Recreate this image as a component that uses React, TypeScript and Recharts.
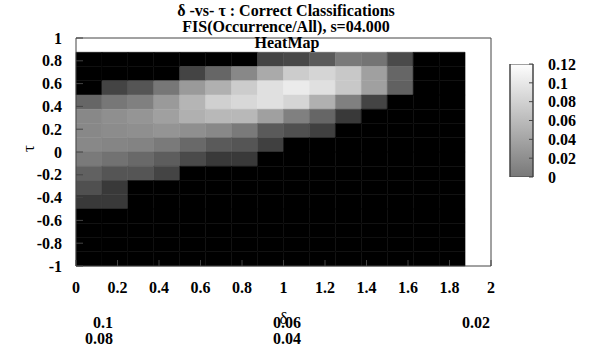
import { ComposedChart, BarChart, Bar, XAxis, YAxis, ReferenceArea, Label } from "recharts";

// axis ticks
const deltaTicks = [0, 0.2, 0.4, 0.6, 0.8, 1, 1.2, 1.4, 1.6, 1.8, 2];
const deltaInnerTicks = [0.2, 0.4, 0.6, 0.8, 1, 1.2, 1.4, 1.6, 1.8];
const tauTicks = [-1, -0.8, -0.6, -0.4, -0.2, 0, 0.2, 0.4, 0.6, 0.8, 1];
const tauInnerTicks = [-0.8, -0.6, -0.4, -0.2, 0, 0.2, 0.4, 0.6, 0.8];
const cbTicks = [0, 0.02, 0.04, 0.06, 0.08, 0.1, 0.12];
const cbRange = [{ name: "cb", top: 0.12 }];

// heatmap cells (0.125 wide), left edges in delta, lower edges in tau (top row first)
const CELL = 0.125;
const deltaStarts = [0, 0.125, 0.25, 0.375, 0.5, 0.625, 0.75, 0.875, 1, 1.125, 1.25, 1.375, 1.5, 1.625, 1.75];
const tauStarts = [0.75, 0.625, 0.5, 0.375, 0.25, 0.125, 0, -0.125, -0.25, -0.375, -0.5, -0.625, -0.75, -0.875, -1];

const n = null;
const values: (number | null)[][] = [
  [n, n, n, n, n, n, n, -0.047, -0.043, -0.027, 0.002, -0.004, -0.041, n, n],
  [n, n, n, n, -0.047, -0.016, 0.014, 0.045, 0.075, 0.083, 0.072, 0.036, -0.016, n, n],
  [n, -0.047, -0.031, -0.001, 0.03, 0.05, 0.075, 0.093, 0.103, 0.093, 0.072, 0.036, -0.021, n, n],
  [-0.016, -0.001, 0.007, 0.03, 0.055, 0.079, 0.086, 0.093, 0.083, 0.05, 0.007, -0.047, n, n, n],
  [0.014, 0.021, 0.026, 0.036, 0.05, 0.057, 0.057, 0.036, 0.007, -0.016, -0.056, n, n, n, n],
  [0.014, 0.018, 0.021, 0.025, 0.021, 0.014, 0.002, -0.027, -0.036, -0.05, n, n, n, n, n],
  [0.014, 0.012, 0.01, 0.002, -0.013, -0.027, -0.031, -0.05, n, n, n, n, n, n, n],
  [0.002, -0.005, -0.013, -0.024, -0.041, -0.056, -0.056, n, n, n, n, n, n, n, n],
  [-0.021, -0.031, -0.031, -0.047, n, n, n, n, n, n, n, n, n, n, n],
  [-0.036, -0.056, n, n, n, n, n, n, n, n, n, n, n, n, n],
  [-0.056, -0.056, n, n, n, n, n, n, n, n, n, n, n, n, n],
  [n, n, n, n, n, n, n, n, n, n, n, n, n, n, n],
  [n, n, n, n, n, n, n, n, n, n, n, n, n, n, n],
  [n, n, n, n, n, n, n, n, n, n, n, n, n, n, n],
  [n, n, n, n, n, n, n, n, n, n, n, n, n, n, n],
];

const FONT = "'Liberation Serif', 'DejaVu Serif', serif";
const FS = 16;
const tickStyle = { fontFamily: FONT, fontWeight: 700, fontSize: FS, fill: "#000" };

function shade(v: number | null) {
  if (v === null) return "#000000";
  const g = Math.max(0, Math.min(255, Math.round(120 + v * 1117)));
  const h = g.toString(16).padStart(2, "0");
  return `#${h}${h}${h}`;
}

const txt = (s: string, left: number, top: number, anchor: "left" | "center" | "right") => (
  <div
    key={s + left + top}
    style={{
      position: "absolute",
      left,
      top,
      transform: anchor === "center" ? "translateX(-50%)" : anchor === "right" ? "translateX(-100%)" : undefined,
      fontFamily: FONT,
      fontWeight: 700,
      fontSize: FS,
      lineHeight: "16px",
      whiteSpace: "nowrap",
      color: "#000",
    }}
  >
    {s}
  </div>
);

export default function App() {
  return (
    <div style={{ position: "absolute", left: 0, top: 0, width: 592, height: 354, background: "#fff" }}>
      <div style={{ position: "absolute", left: 0, top: 0 }}>
        <ComposedChart width={592} height={354} margin={{ top: 37, right: 100, bottom: 58, left: 0 }}>
          {values.map((row, r) =>
            row.map((v, c) => (
              <ReferenceArea
                key={`${r}-${c}`}
                x1={deltaStarts[c]}
                x2={deltaStarts[c] + CELL}
                y1={tauStarts[r]}
                y2={tauStarts[r] + CELL}
                fill={shade(v)}
                fillOpacity={1}
                stroke={shade(v)}
                strokeWidth={0.5}
                isAnimationActive={false}
              />
            ))
          )}
          <XAxis
            type="number"
            dataKey="x"
            domain={[0, 2]}
            ticks={deltaTicks}
            allowDataOverflow
            height={30}
            tickSize={-6}
            tickMargin={22}
            tick={tickStyle}
            stroke="#444"
            interval={0}
          >
            <Label value="δ" position="bottom" offset={16} style={{ fontFamily: FONT, fontSize: 17, fill: "#000" }} />
          </XAxis>
          <XAxis
            xAxisId="top"
            orientation="top"
            type="number"
            domain={[0, 2]}
            ticks={deltaInnerTicks}
            allowDataOverflow
            height={1}
            tickSize={-6}
            tick={false}
            stroke="#444"
            interval={0}
          />
          <YAxis
            type="number"
            domain={[-1, 1]}
            ticks={tauTicks}
            allowDataOverflow
            width={76}
            tickSize={-7}
            tickMargin={21}
            tick={tickStyle}
            stroke="#444"
            interval={0}
          >
            <Label value="τ" position="insideLeft" offset={28} angle={-90} style={{ fontFamily: FONT, fontSize: 17, fill: "#000" }} />
          </YAxis>
          <YAxis
            yAxisId="right"
            orientation="right"
            type="number"
            domain={[-1, 1]}
            ticks={tauInnerTicks}
            allowDataOverflow
            width={1}
            tickSize={-7}
            tick={false}
            stroke="#444"
            interval={0}
          />
        </ComposedChart>
      </div>

      {/* colour box */}
      <div style={{ position: "absolute", left: 0, top: 0 }}>
        <BarChart
          width={592}
          height={354}
          data={cbRange}
          barCategoryGap={0}
          margin={{ top: 64, right: 1, bottom: 177, left: 509 }}
        >
          <defs>
            <linearGradient id="cbGrad" x1="0" y1="1" x2="0" y2="0">
              <stop offset="0%" stopColor={shade(0)} />
              <stop offset="100%" stopColor={shade(0.12)} />
            </linearGradient>
          </defs>
          <XAxis dataKey="name" hide />
          <Bar dataKey="top" fill="url(#cbGrad)" stroke="#444" strokeWidth={1} isAnimationActive={false} />
          <YAxis
            orientation="left"
            type="number"
            domain={[0, 0.12]}
            ticks={cbTicks}
            allowDataOverflow
            width={1}
            tickSize={-4}
            tick={false}
            stroke="#444"
            interval={0}
          />
          <YAxis
            yAxisId="cbr"
            orientation="right"
            type="number"
            domain={[0, 0.12]}
            ticks={cbTicks}
            allowDataOverflow
            width={58}
            tickSize={-4}
            tickMargin={19}
            tick={tickStyle}
            stroke="#444"
            interval={0}
          />
        </BarChart>
      </div>

      {txt("δ -vs- τ : Correct Classifications", 286, 3, "center")}
      {txt("FIS(Occurrence/All), s=04.000", 286, 19, "center")}
      {txt("HeatMap", 287, 35, "center")}
      {txt("0.1", 113, 315, "right")}
      {txt("0.08", 113, 331, "right")}
      {txt("0.06", 287, 315, "center")}
      {txt("0.04", 287, 331, "center")}
      {txt("0.02", 490, 315, "right")}
    </div>
  );
}
